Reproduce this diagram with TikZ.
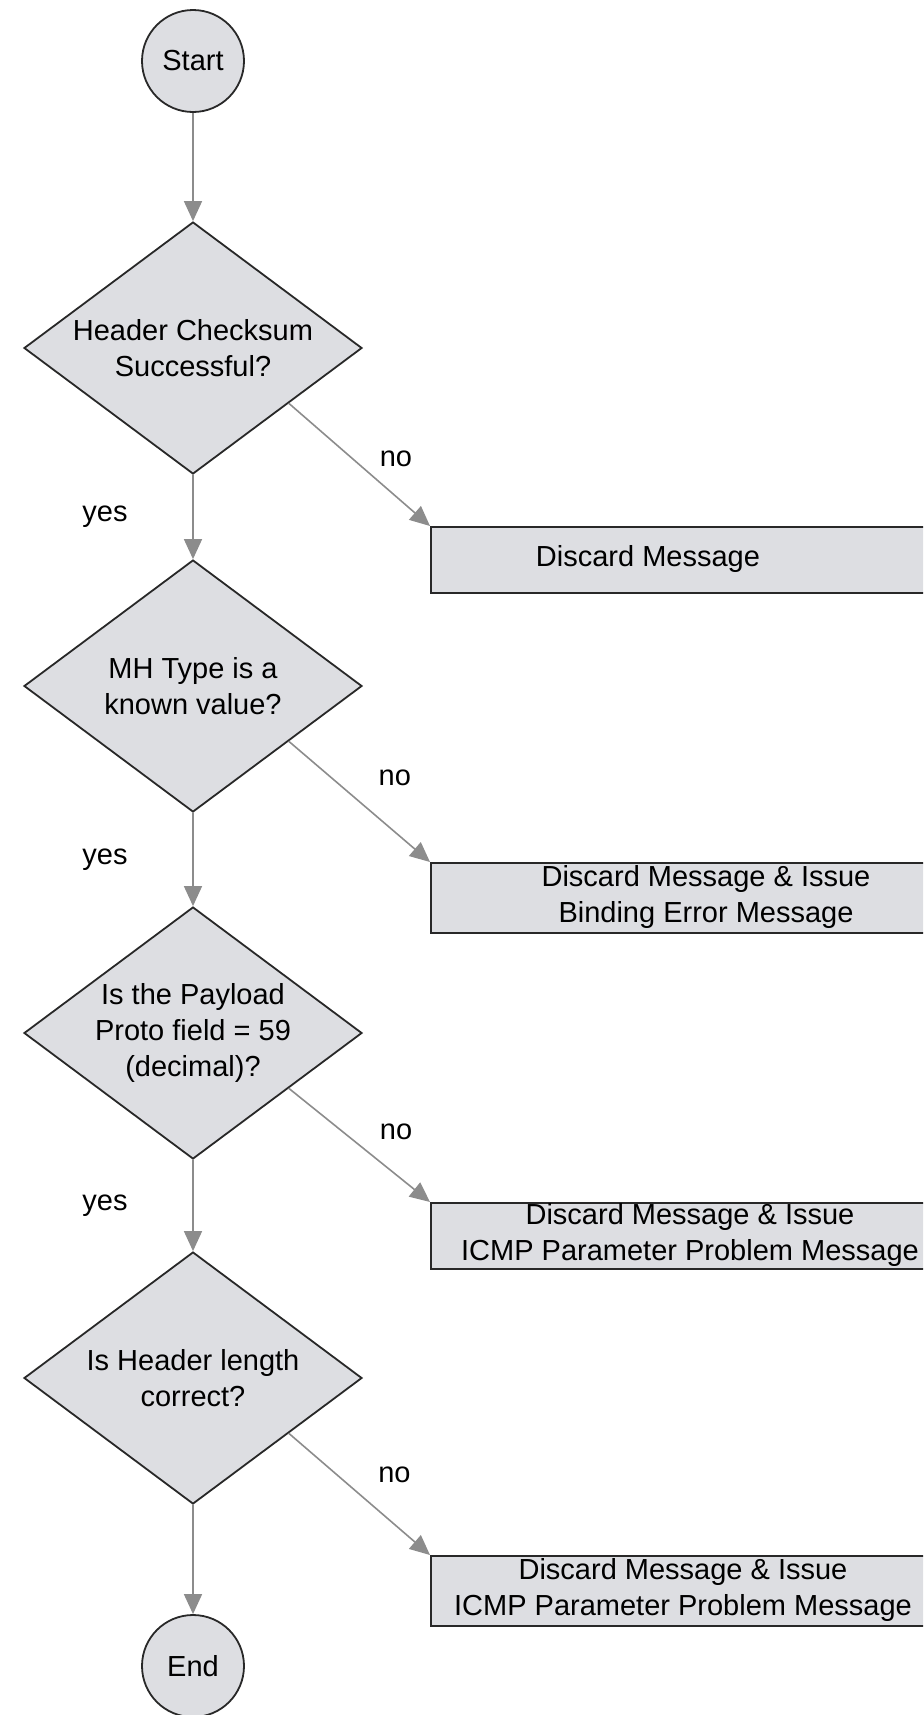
\documentclass[tikz,border=0pt]{standalone}
\usepackage{fontspec}
\setmainfont{Liberation Sans}
\usetikzlibrary{arrows.meta,shapes.geometric}
\definecolor{boxgray}{RGB}{221,222,226}
\definecolor{linegray}{RGB}{140,140,140}
\definecolor{edgegray}{RGB}{40,40,40}

\begin{document}
\begin{tikzpicture}[x=0.5pt,y=-0.5pt,font=\fontsize{14.5}{18}\selectfont,
        term/.style={circle,draw=edgegray,fill=boxgray,line width=0.9pt,minimum size=51pt,inner sep=0pt},
        test/.style={diamond,draw=edgegray,fill=boxgray,line width=0.9pt,aspect=1.34,
            minimum width=169pt,minimum height=126pt,inner sep=0pt,align=center},
        msg/.style={rectangle,draw=edgegray,fill=boxgray,line width=0.9pt,anchor=north west,
            minimum width=270pt,inner sep=0pt},
        flow/.style={draw=linegray,line width=0.8pt,-{Triangle[length=10pt,width=9pt]}}]
        % 範囲
        \useasboundingbox (0,0) rectangle (923,1715);
        \clip (0,0) rectangle (923,1715);
        % 開始 / 終了
        \node[term] (start) at (193,61) {Start};
        \node[term] (end) at (193,1666) {End};
        % 判定
        \node[test] (chk) at (193,348) {Header Checksum\\Successful?};
        \node[test] (mhtype) at (193,686) {MH Type is a\\known value?};
        \node[test] (proto) at (193,1033) {Is the Payload\\Proto field = 59\\(decimal)?};
        \node[test] (hlen) at (193,1378) {Is Header length\\correct?};
        % 破棄
        \node[msg,minimum height=33pt] (drop1) at (430,526) {};
        \node (drop1txt) at (648,559) {Discard Message};
        \node[msg,minimum height=35pt] (drop2) at (430,862) {};
        \node[align=center] (drop2txt) at (706,897) {Discard Message \& Issue\\Binding Error Message};
        \node[msg,minimum height=33pt] (drop3) at (430,1202) {};
        \node[align=center] (drop3txt) at (690,1235) {Discard Message \& Issue\\ICMP Parameter Problem Message};
        \node[msg,minimum height=35pt] (drop4) at (430,1555) {};
        \node[align=center] (drop4txt) at (683,1590) {Discard Message \& Issue\\ICMP Parameter Problem Message};
        % yes
        \draw[flow] (start) -- (chk);
        \draw[flow] (chk) -- node[left=29pt]{yes} (mhtype);
        \draw[flow] (mhtype) -- node[left=29pt]{yes} (proto);
        \draw[flow] (proto) -- node[left=29pt]{yes} (hlen);
        \draw[flow] (hlen) -- (end);
        % no
        \draw[flow] (chk.-30) -- node[pos=0.45,right=10pt]{no} (drop1.north west);
        \draw[flow] (mhtype.-30) -- node[pos=0.30,right=20pt]{no} (drop2.north west);
        \draw[flow] (proto.-30) -- node[pos=0.38,right=15pt]{no} (drop3.north west);
        \draw[flow] (hlen.-30) -- node[pos=0.34,right=17pt]{no} (drop4.north west);
\end{tikzpicture}
\end{document}
